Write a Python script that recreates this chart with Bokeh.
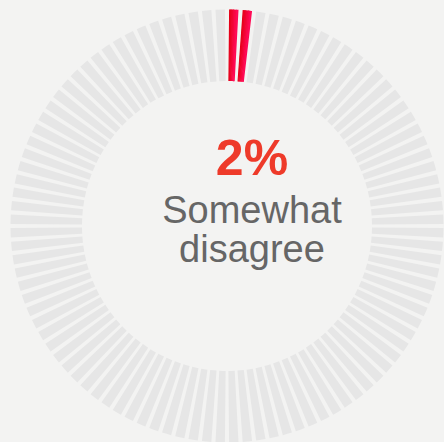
import numpy as np
from bokeh.plotting import figure
from bokeh.models import ColumnDataSource
from bokeh.core.properties import value
from bokeh.embed import file_html
from bokeh.resources import INLINE

# ---- data ----
label = "Somewhat disagree"
percent = 2            # highlighted share (segments)
total_segments = 100   # one segment per percent
pct_text = "2%"

BG = "#f3f3f2"
GRAY = "#e6e6e6"
RED_LEFT = (228, 0, 20)
RED_RIGHT = (255, 10, 85)
TXT_RED = "#ee3a2a"
TXT_GRAY = "#666666"

W, H = 444, 442
p = figure(width=W, height=H, x_range=(0, W), y_range=(0, H),
           output_backend="svg", toolbar_location=None,
           background_fill_color=BG, border_fill_color=BG,
           outline_line_color=None, min_border=0)
p.axis.visible = False
p.grid.visible = False

cx, cy = 226.5, 216.5
r_in, r_out = 145, 216.5
step = 2 * np.pi / total_segments
gap = np.deg2rad(1.1)

# gray segments
idx = np.arange(percent, total_segments)
gsrc = ColumnDataSource(dict(
    start=np.pi / 2 - (idx + 1) * step + gap / 2,
    end=np.pi / 2 - idx * step - gap / 2,
))
p.annular_wedge(x=cx, y=cy, inner_radius=r_in, outer_radius=r_out,
                start_angle="start", end_angle="end", source=gsrc,
                inner_radius_units="screen", outer_radius_units="screen",
                fill_color=GRAY, line_color=None)

# highlighted segments with a left-to-right colour shading
sub = 6
starts, ends, cols = [], [], []
for i in range(percent):
    a0 = np.pi / 2 - i * step - gap / 2
    a1 = np.pi / 2 - (i + 1) * step + gap / 2
    span = (a0 - a1) / sub
    for k in range(sub):
        t = k / (sub - 1)
        c = tuple(int(round(RED_LEFT[j] + (RED_RIGHT[j] - RED_LEFT[j]) * t)) for j in range(3))
        ends.append(a0 - k * span + (0.004 if k > 0 else 0))
        starts.append(a0 - (k + 1) * span)
        cols.append("#%02x%02x%02x" % c)
rsrc = ColumnDataSource(dict(start=starts, end=ends, color=cols))
p.annular_wedge(x=cx, y=cy, inner_radius=r_in, outer_radius=r_out,
                start_angle="start", end_angle="end", source=rsrc,
                inner_radius_units="screen", outer_radius_units="screen",
                fill_color="color", line_color=None)

# centre text
tx = 251.5
p.text(x=[tx], y=[285], text=[pct_text], text_font=value("Liberation Sans"),
       text_font_style="bold", text_font_size="50px", text_color=TXT_RED,
       text_align="center", text_baseline="alphabetic")
words = label.split(" ")
p.text(x=[tx, tx], y=[233, 194], text=words, text_font=value("Liberation Sans"),
       text_font_size="38px", text_color=TXT_GRAY,
       text_align="center", text_baseline="alphabetic")

html = file_html(p, INLINE)
html = html.replace("<head>", "<head><style>html,body{background:%s;}</style>" % BG, 1)
open("out.html", "w").write(html)
